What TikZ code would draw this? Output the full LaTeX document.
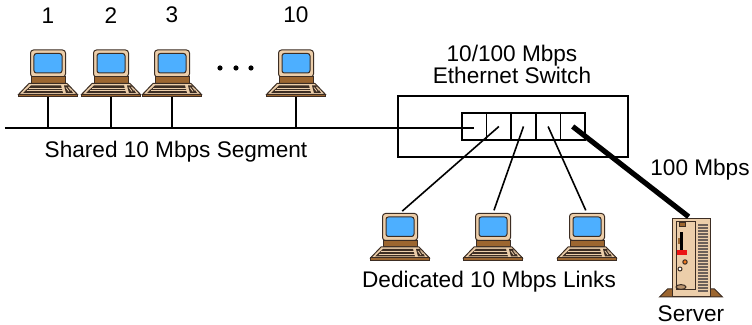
\documentclass[tikz,border=0pt]{standalone}
\usepackage{fontspec}
\setmainfont{Liberation Sans}
\usepackage{xcolor}
\usetikzlibrary{positioning}
\definecolor{casing}{RGB}{236,206,170}
\definecolor{screenblue}{RGB}{77,175,255}
\definecolor{wood}{RGB}{156,102,48}
\definecolor{outline}{RGB}{60,45,35}
\definecolor{redled}{RGB}{235,20,20}
\definecolor{amber}{RGB}{240,120,30}

\tikzset{
  icon/.style={draw=outline, line width=0.5pt},
  % desktop workstation, drawn around its centre (units are pixels, y down)
  pc/.pic={
    \draw[icon, fill=casing, rounded corners=1.5pt] (-17.5,-23.5) rectangle (17.5,3.5);
    \draw[icon, fill=screenblue, rounded corners=1.2pt] (-14,-20) rectangle (14,-0.5);
    \draw[icon, fill=wood] (-17,3.5) rectangle (17,10);
    \draw[icon, fill=casing] (-19,10) -- (19,10) -- (29.5,21) -- (-29.5,21) -- cycle;
    \fill[outline] (-17,12) -- (13,12) -- (15,19.5) -- (-25,19.5) -- cycle;
    \draw[casing, line width=0.4pt] (-19,14.5) -- (14,14.5) (-21.5,17) -- (15,17);
    \fill[outline] (16,12) -- (20,12) -- (25,19.5) -- (18,19.5) -- cycle;
    \draw[casing, line width=0.4pt] (18,14) -- (21,18) (20.5,13.5) -- (23,17);
    \draw[icon, fill=wood] (-29.5,21) rectangle (29.5,23.5);
  },
  % tower server with its foot
  server/.pic={
    \draw[icon, fill=wood] (-23.5,31) -- (23.5,31) -- (31.5,39) -- (-31.5,39) -- cycle;
    \draw[icon, fill=casing] (-19,-39) rectangle (19,39);
    \draw[icon] (-15,-36) rectangle (4,32);
    \foreach \k in {0,...,22}
      \fill[outline!75] (7,-34+3*\k) rectangle (17,-32+3*\k);
    \draw[icon, fill=wood] (-12,-35) rectangle (-6,-31);
    \fill[wood] (-13.5,-20) rectangle (-11,-14);
    \fill[black] (-11,-26) rectangle (-8,-8);
    \fill[redled] (-14,-8) rectangle (-4,-3);
    \draw[icon, fill=amber] (-6,4) circle (1.1pt);
    \draw[icon, fill=white] (-11,11) circle (1pt);
    \draw[icon, fill=wood!70] (-10,29) ellipse (2.5pt and 1.2pt);
  }
}

\begin{document}
\begin{tikzpicture}[x=0.5pt, y=-0.5pt,
    lbl/.style={inner sep=0pt, font=\fontsize{11.3}{11}\selectfont},
    station/.style={inner sep=0pt, minimum width=29.5pt, minimum height=23.5pt},
    tower/.style={inner sep=0pt, minimum width=19pt, minimum height=39pt},
    box/.style={draw, line width=0.8pt, inner sep=0pt},
    port/.style={draw, line width=0.8pt, inner sep=0pt,
                 minimum width=12.3pt, minimum height=13.5pt},
    bus/.style={line width=1.1pt},
    drop/.style={line width=0.8pt},
    uplink/.style={line width=2.6pt},
    dot/.style={circle, fill, inner sep=0pt, minimum size=2.6pt}
]
\useasboundingbox (0,0) rectangle (752,325);

% switch with its five ports
\node[box, minimum width=115pt, minimum height=30.5pt] (switch) at (513,126.5) {};
\foreach \i in {1,...,5}
  \node[port] (p\i) at ({449.7+24.6*\i},126.5) {};
\node[lbl, align=center] (title) at (512,64) {10/100 Mbps\\Ethernet Switch};

% shared segment
\coordinate (tap) at (5,128);
\draw[bus] (tap) -- (tap -| p1.center);
\foreach \n/\x in {1/48, 2/111, 3/172, 10/296} {
  \node[station] (pc\n) at (\x,73.5) {};
  \pic at (pc\n) {pc};
  \node[lbl, above=13pt of pc\n] (num\n) {\n};
  \draw[drop] (pc\n.south) -- (pc\n.south |- tap);
}
\foreach \k/\x in {1/220, 2/236, 3/251}
  \node[dot] (gap\k) at (\x,68) {};
\node[lbl] (shared) at (176,152) {Shared 10 Mbps Segment};

% dedicated links
\foreach \i/\x/\p in {1/400/2, 2/493/3, 3/587/4} {
  \node[station] (d\i) at (\x,237) {};
  \pic at (d\i) {pc};
  \draw[drop, shorten >=1.5pt] (p\p.center) -- (d\i.north);
}
\node[lbl] (dedicated) at (489,282) {Dedicated 10 Mbps Links};

% server uplink
\node[tower] (srv) at (691,258) {};
\pic at (srv) {server};
\draw[uplink, shorten >=1.5pt] (p5.center) -- (srv.north);
\node[lbl] (speed) at (700,170) {100 Mbps};
\node[lbl, below=4pt of srv] (srvname) {Server};
\end{tikzpicture}
\end{document}
